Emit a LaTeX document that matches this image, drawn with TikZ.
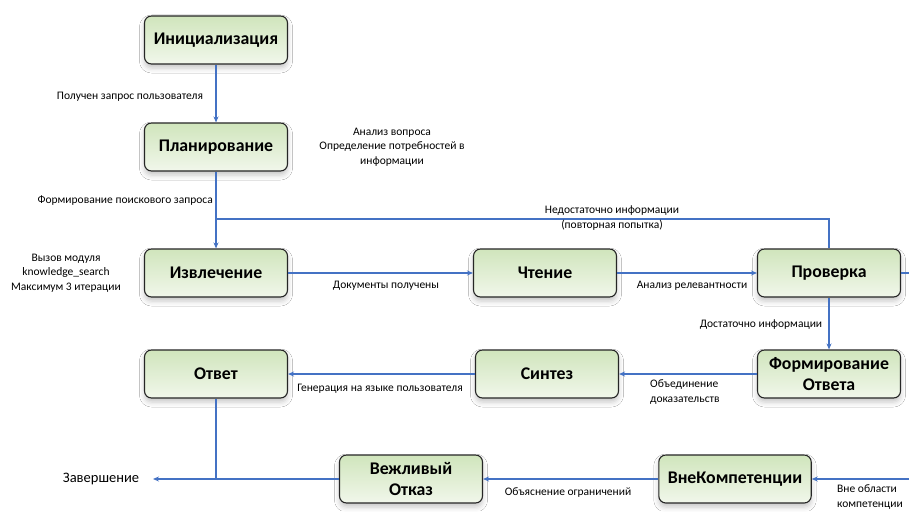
\documentclass[tikz,border=0pt]{standalone}
\usepackage{fontspec}
\setmainfont{Carlito}
\usetikzlibrary{arrows.meta,shadows.blur}
\definecolor{flow}{HTML}{4472C4}
\definecolor{boxtop}{HTML}{D0E5BC}
\definecolor{boxbot}{HTML}{F1F7EB}
\tikzset{
  state/.style={draw=black!85, line width=1.1pt, rounded corners=7pt,
    minimum width=143pt, minimum height=48pt, inner xsep=9pt,
    top color=boxtop, bottom color=boxbot,
    font=\fontsize{17.8}{20.5}\selectfont\bfseries, align=center,
    blur shadow={shadow xshift=0pt, shadow yshift=-4pt,
      shadow blur radius=5pt, shadow opacity=22}},
  flowline/.style={draw=flow, line width=1.3pt},
  arr/.style={flowline, -{Stealth[length=6pt,width=5pt]}},
  lbl/.style={font=\fontsize{11.5}{14.5}\selectfont, align=center, inner sep=0pt},
}
\begin{document}
\begin{tikzpicture}[x=1pt,y=-1pt]
\fill[white] (0,0) rectangle (909,511);
\useasboundingbox (0,0) rectangle (909,511);

% states
\node[state] (init)   at (216,40)  {Инициализация};
\node[state] (plan)   at (216,147) {Планирование};
\node[state] (extr)   at (216,273) {Извлечение};
\node[state] (read)   at (545,273) {Чтение};
\node[state] (check)  at (829,273) {Проверка};
\node[state] (form)   at (829,374) {Формирование\\Ответа};
\node[state] (synth)  at (547,374) {Синтез};
\node[state] (answer) at (216,374) {Ответ};
\node[state] (refuse) at (411,479) {Вежливый\\Отказ};
\node[state] (oos)    at (735,479) {ВнеКомпетенции};

% junctions and free ends
\coordinate (j1) at (216,219);
\coordinate (j2) at (216,479);
\coordinate (endpt) at (153,479);
\coordinate (rightA) at (909,273);
\coordinate (rightB) at (909,479);

% transitions
\draw[arr] (init) -- (plan);
\draw[arr] (plan) -- (extr);
\draw[flowline] (check.north) |- (j1);
\draw[arr] (extr) -- (read);
\draw[arr] (read) -- (check);
\draw[flowline] (check.east) -- (rightA);
\draw[arr] (check) -- (form);
\draw[arr] (form) -- (synth);
\draw[arr] (synth) -- (answer);
\draw[flowline] (answer.south) -- (j2);
\draw[arr] (refuse.west) -- (endpt);
\draw[arr] (oos.west) -- (refuse.east);
\draw[arr] (rightB) -- (oos.east);

% labels
\node[lbl] (l1) at (130,97) {Получен запрос пользователя};
\node[lbl, anchor=east] (l2) at (213,201) {Формирование поискового запроса};
\node[lbl] (l3) at (392,147) {Анализ вопроса\\Определение потребностей в\\информации};
\node[lbl] (l4) at (66,273) {Вызов модуля\\knowledge\_search\\Максимум 3 итерации};
\node[lbl] (l5) at (612,218) {Недостаточно информации\\(повторная попытка)};
\node[lbl] (l6) at (386,286) {Документы получены};
\node[lbl] (l7) at (692,286) {Анализ релевантности};
\node[lbl] (l8) at (761,325) {Достаточно информации};
\node[lbl, align=left, anchor=west] (l9) at (650,392) {Объединение\\доказательств};
\node[lbl] (l10) at (380,389) {Генерация на языке пользователя};
\node[lbl, font=\fontsize{14.5}{17}\selectfont] (l11) at (101,479) {Завершение};
\node[lbl] (l12) at (568,493) {Объяснение ограничений};
\node[lbl, align=left, anchor=west] (l13) at (837,497) {Вне области\\компетенции};
\end{tikzpicture}
\end{document}
